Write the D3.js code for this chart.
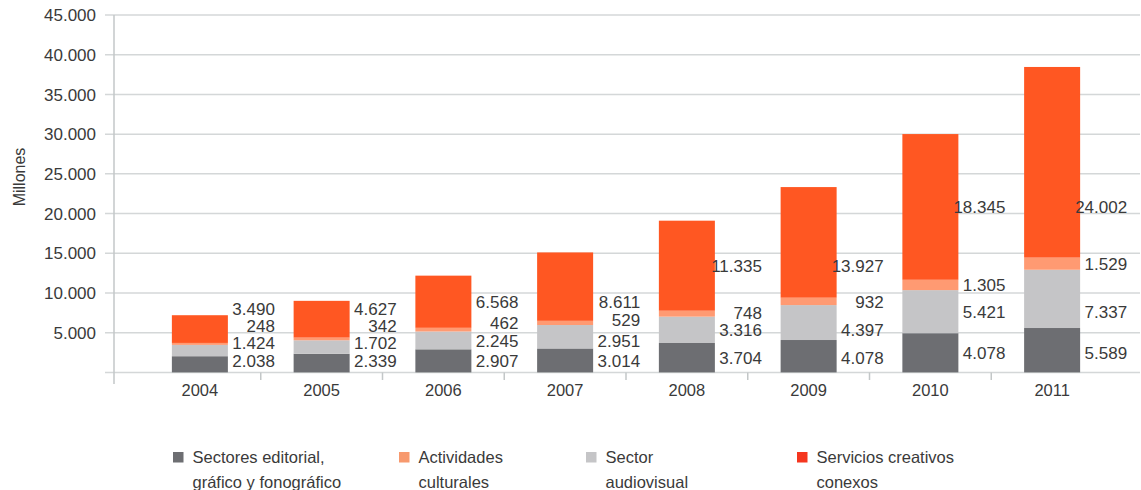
<!DOCTYPE html>
<html>
<head>
<meta charset="utf-8">
<script src="https://cdn.jsdelivr.net/npm/d3@7"></script>
<style>
  html, body { margin: 0; padding: 0; background: #fff; }
  svg { display: block; font-family: "Liberation Sans", Arial, Helvetica, sans-serif; }
</style>
</head>
<body>
<svg id="chart" width="1141" height="490"></svg>
<script>
// ---- data (millones) ----
const years = ["2004", "2005", "2006", "2007", "2008", "2009", "2010", "2011"];
const editorial   = [2038, 2339, 2907, 3014, 3704, 4078, 4937, 5589];
const audiovisual = [1424, 1702, 2245, 2951, 3316, 4397, 5421, 7337];
const culturales  = [248, 342, 462, 529, 748, 932, 1305, 1529];
const servicios   = [3490, 4627, 6568, 8611, 11335, 13927, 18345, 24002];
// printed label texts (2010 editorial label is printed as 4.078 in the source)
const editorialText   = ["2.038", "2.339", "2.907", "3.014", "3.704", "4.078", "4.078", "5.589"];
const audiovisualText = ["1.424", "1.702", "2.245", "2.951", "3.316", "4.397", "5.421", "7.337"];
const culturalesText  = ["248", "342", "462", "529", "748", "932", "1.305", "1.529"];
const serviciosText   = ["3.490", "4.627", "6.568", "8.611", "11.335", "13.927", "18.345", "24.002"];
const yTicks = [0, 5000, 10000, 15000, 20000, 25000, 30000, 35000, 40000, 45000];
const legendLines = [
  ["Sectores editorial,", "gráfico y fonográfico"],
  ["Actividades", "culturales"],
  ["Sector", "audiovisual"],
  ["Servicios creativos", "conexos"]
];

// ---- series (stack order bottom -> top) ----
const series = [
  { key: "editorial",   values: editorial,   text: editorialText,   color: "#6d6e72", legendColor: "#6d6e72", legend: 0, pairAlign: true },
  { key: "audiovisual", values: audiovisual, text: audiovisualText, color: "#c5c5c7", legendColor: "#c5c5c7", legend: 2, pairAlign: true },
  { key: "culturales",  values: culturales,  text: culturalesText,  color: "#ff9a72", legendColor: "#f7996e", legend: 1, pairAlign: false },
  { key: "servicios",   values: servicios,   text: serviciosText,   color: "#ff5722", legendColor: "#f5361f", legend: 3, pairAlign: true }
];

const table = years.map((y, i) => {
  const row = { year: y };
  series.forEach(s => row[s.key] = s.values[i]);
  return row;
});
const stacked = d3.stack().keys(series.map(s => s.key))(table);

const svg = d3.select("#chart");
const textColor = "#3a3a3a";
const gridColor = "#d4d7d8";
const axisColor = "#c3c7c8";

const plotLeft = 114, plotRight = 1140, plotTop = 15, plotBottom = 372.4;

const y = d3.scaleLinear().domain([0, 45000]).range([plotBottom, plotTop]);
const x = d3.scaleBand().domain(years).range([139, 1113]).paddingInner(0.54).paddingOuter(0.27);

const loc = d3.formatLocale({ decimal: ",", thousands: ".", grouping: [3], currency: ["", ""] });
const fmt = loc.format(",.0f");

// gridlines
svg.append("g").selectAll("line").data(yTicks).join("line")
  .attr("x1", 105).attr("x2", plotRight)
  .attr("y1", d => y(d)).attr("y2", d => y(d))
  .attr("stroke", gridColor).attr("stroke-width", 1.5);

// y tick labels
svg.append("g").selectAll("text").data(yTicks.filter(d => d > 0)).join("text")
  .attr("x", 96).attr("y", d => y(d)).attr("dy", "0.36em")
  .attr("text-anchor", "end").attr("font-size", 17).attr("fill", textColor)
  .text(d => fmt(d));

// y axis line
svg.append("line").attr("x1", plotLeft).attr("x2", plotLeft)
  .attr("y1", plotTop).attr("y2", 384)
  .attr("stroke", axisColor).attr("stroke-width", 1.5);

// y title
svg.append("text")
  .attr("transform", "translate(19,177) rotate(-90)")
  .attr("text-anchor", "middle").attr("dy", "0.35em")
  .attr("font-size", 16).attr("fill", textColor)
  .text("Millones");

// x ticks between categories
const step = x.step();
svg.append("g").selectAll("line").data(years.slice(0, -1)).join("line")
  .attr("x1", d => x(d) + x.bandwidth() / 2 + step / 2)
  .attr("x2", d => x(d) + x.bandwidth() / 2 + step / 2)
  .attr("y1", plotBottom).attr("y2", 380)
  .attr("stroke", axisColor).attr("stroke-width", 1.5);

// x labels
svg.append("g").selectAll("text").data(years).join("text")
  .attr("x", d => x(d) + x.bandwidth() / 2).attr("y", 390).attr("dy", "0.36em")
  .attr("text-anchor", "middle").attr("font-size", 16.5).attr("fill", textColor)
  .text(d => d);

// bars
const colorOf = {};
series.forEach(s => colorOf[s.key] = s.color);
svg.append("g").selectAll("g").data(stacked).join("g")
  .attr("fill", d => colorOf[d.key])
  .selectAll("rect").data(d => d).join("rect")
  .attr("x", d => x(d.data.year))
  .attr("width", x.bandwidth())
  .attr("y", d => y(d[1]))
  .attr("height", d => y(d[0]) - y(d[1]));

// value labels: start at segment centres, stacked upward with a minimum gap,
// then aligned across each pair of years (as in the source layout)
const gap = 17.3;
const pos = years.map((yr, i) => {
  let prev = null;
  return stacked.map(layer => {
    const seg = layer[i];
    const centre = y((seg[0] + seg[1]) / 2);
    const p = prev === null ? Math.min(centre, plotBottom - 12) : Math.min(centre, prev - gap);
    prev = p;
    return p;
  });
});
for (let i = 0; i + 1 < years.length; i += 2) {
  series.forEach((s, si) => {
    if (!s.pairAlign) return;
    const m = Math.max(pos[i][si], pos[i + 1][si]);
    pos[i][si] = m; pos[i + 1][si] = m;
  });
}
const labelG = svg.append("g");
years.forEach((yr, i) => {
  series.forEach((s, si) => {
    labelG.append("text")
      .attr("x", x(yr) + x.bandwidth() / 2 + 75)
      .attr("y", pos[i][si]).attr("dy", "0.36em")
      .attr("text-anchor", "end").attr("font-size", 17).attr("fill", textColor)
      .text(s.text[i]);
  });
});

// legend
const legendSquareX = [173, 399, 586, 797];
const legendItems = [0, 1, 2, 3].map(k => ({ lines: legendLines[k], color: series.find(s => s.legend === k).legendColor, x: legendSquareX[k] }));
const lg = svg.append("g").selectAll("g").data(legendItems).join("g")
  .attr("transform", d => "translate(" + d.x + ",0)");
lg.append("rect").attr("x", 0).attr("y", 452).attr("width", 10.5).attr("height", 10.5)
  .attr("fill", d => d.color);
lg.each(function(d) {
  const g = d3.select(this);
  d.lines.forEach((t, li) => {
    g.append("text").attr("x", 19.5).attr("y", 457.5 + li * 24.5).attr("dy", "0.36em")
      .attr("font-size", 16.5).attr("fill", textColor).text(t);
  });
});
</script>
</body>
</html>
